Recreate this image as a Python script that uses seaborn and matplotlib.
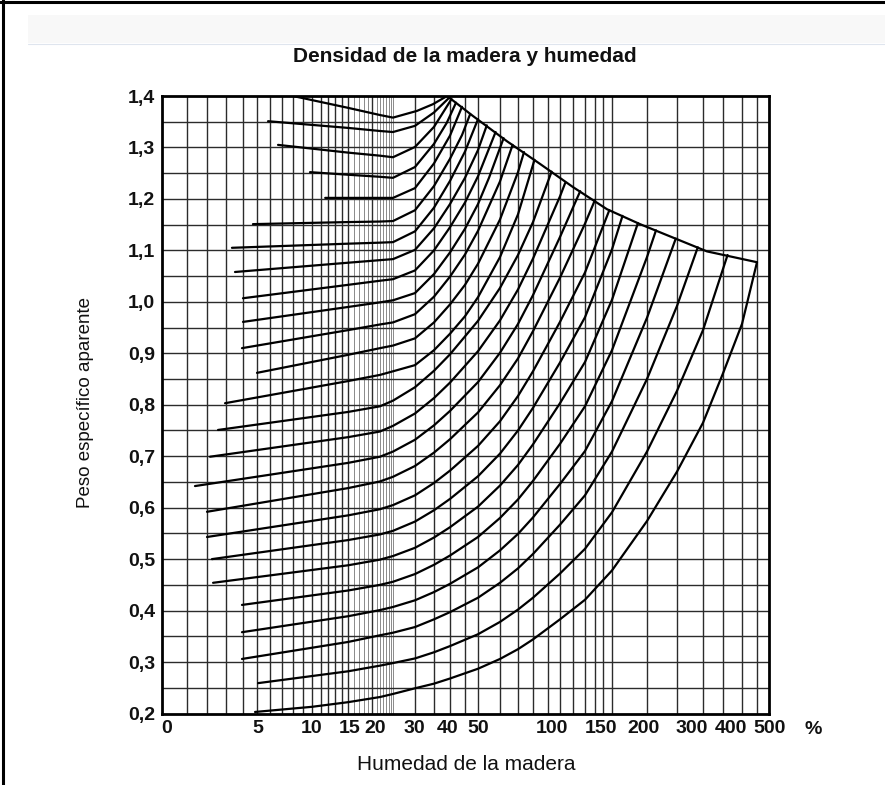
import numpy as np
import pandas as pd
import matplotlib
matplotlib.use("Agg")
import matplotlib.pyplot as plt
from matplotlib.transforms import ScaledTranslation
from matplotlib.patches import Rectangle
from matplotlib.lines import Line2D
import seaborn as sns

# ---------------------------------------------------------------------------
# Moisture scale of the nomogram: gridline values (%) and their spacing
# along the printed axis (the scale is neither linear nor logarithmic).
grid_u = [0, 1, 2, 3, 4, 5, 6, 7, 8, 9, 10, 11, 12, 13, 14, 15, 16, 17, 18, 19,
          20, 21, 22, 23, 24, 25, 26, 27, 30, 35, 40, 45, 50, 60, 70, 80, 90,
          100, 110, 120, 130, 140, 150, 200, 250, 300, 350, 400, 450, 500]
grid_pos = [0, 25, 45, 64, 81, 95, 108, 120, 131, 141, 150, 159, 166, 173, 180,
            186, 192, 197, 202, 206, 210, 215, 218, 221, 224, 227, 229, 231,
            253, 272, 288, 303, 316, 338, 356, 371, 386, 398, 411, 423, 433,
            441, 450, 485, 515, 541, 561, 580, 595, 607]

xtick_values = [0, 5, 10, 15, 20, 30, 40, 50, 100, 150, 200, 300, 400, 500]
ytick_values = [0.2, 0.3, 0.4, 0.5, 0.6, 0.7, 0.8, 0.9, 1.0, 1.1, 1.2, 1.3, 1.4]

# ---------------------------------------------------------------------------
# Apparent specific gravity curves (u = moisture %, rho = specific gravity)
u_140 = [8.0, 15, 22, 27, 30.5, 34.7, 39.1]
rho_140 = [1.400, 1.377, 1.363, 1.358, 1.371, 1.384, 1.400]
u_135 = [5.85, 15, 22, 27, 30, 35, 39.8]
rho_135 = [1.351, 1.338, 1.332, 1.330, 1.342, 1.368, 1.397]
u_130 = [6.67, 15, 22, 27, 30, 35, 40.5]
rho_130 = [1.305, 1.290, 1.284, 1.281, 1.301, 1.340, 1.394]
u_125 = [9.78, 15, 22, 27, 30, 35, 39, 42]
rho_125 = [1.252, 1.247, 1.243, 1.241, 1.262, 1.307, 1.348, 1.387]
u_120 = [11.6, 15, 22, 27, 30, 35, 40, 44]
rho_120 = [1.202, 1.202, 1.202, 1.202, 1.221, 1.269, 1.323, 1.379]
u_115 = [4.71, 15, 22, 27, 30, 35, 40, 44, 47]
rho_115 = [1.151, 1.155, 1.156, 1.157, 1.178, 1.225, 1.278, 1.324, 1.365]
u_110 = [3.35, 15, 22, 27, 30, 35, 40, 45, 50]
rho_110 = [1.105, 1.113, 1.115, 1.116, 1.137, 1.183, 1.235, 1.292, 1.355]
u_105 = [3.53, 15, 22, 27, 30, 35, 40, 45, 50, 54]
rho_105 = [1.058, 1.076, 1.081, 1.083, 1.101, 1.143, 1.190, 1.241, 1.295, 1.343]
u_100 = [4.0, 15, 22, 27, 30, 35, 40, 45, 50, 58]
rho_100 = [1.007, 1.033, 1.041, 1.044, 1.061, 1.100, 1.145, 1.193, 1.244, 1.330]
u_095 = [4.0, 15, 22, 27, 30, 35, 40, 45, 50, 55, 62]
rho_095 = [0.961, 0.990, 0.999, 1.003, 1.017, 1.054, 1.096, 1.142, 1.190, 1.241, 1.318]
u_090 = [3.94, 15, 22, 27, 30, 35, 40, 45, 50, 60, 67]
rho_090 = [0.910, 0.945, 0.956, 0.960, 0.976, 1.010, 1.049, 1.092, 1.138, 1.234, 1.305]
u_085 = [5.0, 15, 22, 27, 30, 35, 40, 45, 50, 60, 70, 74]
rho_085 = [0.862, 0.897, 0.910, 0.915, 0.929, 0.960, 0.995, 1.033, 1.074, 1.160, 1.252, 1.291]
u_080 = [2.95, 15, 22, 27, 30, 35, 40, 45, 50, 60, 70, 81]
rho_080 = [0.803, 0.846, 0.858, 0.865, 0.877, 0.906, 0.938, 0.972, 1.009, 1.087, 1.170, 1.276]
u_075 = [2.58, 15, 22, 27, 30, 35, 40, 50, 60, 70, 80, 93]
rho_075 = [0.751, 0.786, 0.797, 0.808, 0.834, 0.866, 0.898, 0.963, 1.027, 1.091, 1.155, 1.253]
u_070 = [2.16, 15, 22, 27, 30, 35, 40, 50, 60, 70, 80, 100, 104]
rho_070 = [0.699, 0.737, 0.748, 0.759, 0.783, 0.813, 0.843, 0.904, 0.964, 1.024, 1.084, 1.205, 1.231]
u_065 = [1.40, 15, 22, 27, 30, 35, 40, 50, 60, 70, 80, 100, 116]
rho_065 = [0.642, 0.687, 0.699, 0.709, 0.732, 0.760, 0.788, 0.844, 0.901, 0.957, 1.013, 1.126, 1.215]
u_060 = [2.0, 15, 22, 27, 30, 35, 40, 50, 60, 70, 80, 100, 120, 130]
rho_060 = [0.592, 0.638, 0.651, 0.660, 0.681, 0.707, 0.733, 0.785, 0.838, 0.890, 0.943, 1.047, 1.152, 1.198]
u_055 = [2.0, 15, 22, 27, 30, 35, 40, 50, 60, 70, 80, 100, 120, 147]
rho_055 = [0.543, 0.585, 0.597, 0.605, 0.624, 0.648, 0.672, 0.720, 0.768, 0.817, 0.865, 0.961, 1.057, 1.178]
u_050 = [2.26, 15, 22, 27, 30, 35, 40, 50, 60, 70, 80, 100, 120, 150, 165]
rho_050 = [0.500, 0.537, 0.548, 0.555, 0.573, 0.595, 0.617, 0.661, 0.705, 0.750, 0.794, 0.882, 0.970, 1.102, 1.167]
u_045 = [2.32, 15, 22, 27, 30, 35, 40, 50, 60, 70, 80, 100, 120, 150, 187]
rho_045 = [0.454, 0.488, 0.499, 0.506, 0.522, 0.542, 0.562, 0.602, 0.643, 0.683, 0.723, 0.803, 0.883, 1.004, 1.153]
u_040 = [3.94, 15, 22, 27, 30, 35, 40, 50, 60, 70, 80, 100, 120, 150, 200, 215]
rho_040 = [0.411, 0.439, 0.450, 0.456, 0.471, 0.489, 0.507, 0.543, 0.580, 0.616, 0.652, 0.724, 0.797, 0.906, 1.087, 1.139]
u_035 = [3.94, 15, 22, 27, 30, 35, 40, 50, 60, 70, 80, 100, 120, 150, 200, 248]
rho_035 = [0.358, 0.389, 0.401, 0.407, 0.420, 0.436, 0.452, 0.484, 0.517, 0.549, 0.581, 0.646, 0.710, 0.807, 0.969, 1.123]
u_030 = [3.94, 15, 22, 27, 30, 35, 40, 50, 60, 70, 80, 100, 120, 150, 200, 250, 290]
rho_030 = [0.306, 0.339, 0.352, 0.357, 0.368, 0.383, 0.397, 0.425, 0.454, 0.482, 0.510, 0.567, 0.624, 0.709, 0.850, 0.992, 1.106]
u_025 = [5.08, 15, 22, 27, 30, 35, 40, 50, 60, 70, 80, 100, 120, 150, 200, 250, 300, 362]
rho_025 = [0.259, 0.282, 0.293, 0.298, 0.307, 0.319, 0.331, 0.354, 0.378, 0.402, 0.425, 0.472, 0.520, 0.591, 0.709, 0.827, 0.945, 1.091]
u_020 = [4.86, 10, 15, 22, 27, 30, 35, 40, 50, 60, 70, 80, 100, 120, 150, 200, 250, 300, 350, 400, 450]
rho_020 = [0.203, 0.213, 0.222, 0.232, 0.238, 0.249, 0.258, 0.268, 0.287, 0.306, 0.325, 0.344, 0.383, 0.421, 0.478, 0.574, 0.670, 0.765, 0.861, 0.957, 1.077]

# Saturation limit (upper envelope of the curves)
u_limit = [39.1, 48.1, 63.9, 84.7, 110, 144.4, 190, 243, 310, 450]
rho_limit = [1.400, 1.361, 1.312, 1.268, 1.223, 1.180, 1.151, 1.125, 1.098, 1.077]

curves = [
    ("1,40", u_140, rho_140), ("1,35", u_135, rho_135), ("1,30", u_130, rho_130),
    ("1,25", u_125, rho_125), ("1,20", u_120, rho_120), ("1,15", u_115, rho_115),
    ("1,10", u_110, rho_110), ("1,05", u_105, rho_105), ("1,00", u_100, rho_100),
    ("0,95", u_095, rho_095), ("0,90", u_090, rho_090), ("0,85", u_085, rho_085),
    ("0,80", u_080, rho_080), ("0,75", u_075, rho_075), ("0,70", u_070, rho_070),
    ("0,65", u_065, rho_065), ("0,60", u_060, rho_060), ("0,55", u_055, rho_055),
    ("0,50", u_050, rho_050), ("0,45", u_045, rho_045), ("0,40", u_040, rho_040),
    ("0,35", u_035, rho_035), ("0,30", u_030, rho_030), ("0,25", u_025, rho_025),
    ("0,20", u_020, rho_020), ("limite", u_limit, rho_limit),
]

frames = []
for name, us, rs in curves:
    frames.append(pd.DataFrame({"curva": name, "u": us, "rho": rs}))
df = pd.concat(frames, ignore_index=True)

# ---------------------------------------------------------------------------
# Custom moisture scale built from the gridline table
_gu = np.asarray(grid_u, float)
_gp = np.asarray(grid_pos, float)


def _forward(u):
    u = np.asarray(u, float)
    out = np.interp(u, _gu, _gp)
    lo = (_gp[1] - _gp[0]) / (_gu[1] - _gu[0])
    hi = (_gp[-1] - _gp[-2]) / (_gu[-1] - _gu[-2])
    out = np.where(u < _gu[0], _gp[0] + (u - _gu[0]) * lo, out)
    out = np.where(u > _gu[-1], _gp[-1] + (u - _gu[-1]) * hi, out)
    return out


def _inverse(p):
    p = np.asarray(p, float)
    out = np.interp(p, _gp, _gu)
    lo = (_gu[1] - _gu[0]) / (_gp[1] - _gp[0])
    hi = (_gu[-1] - _gu[-2]) / (_gp[-1] - _gp[-2])
    out = np.where(p < _gp[0], _gu[0] + (p - _gp[0]) * lo, out)
    out = np.where(p > _gp[-1], _gu[-1] + (p - _gp[-1]) * hi, out)
    return out


# ---------------------------------------------------------------------------
sns.set_theme(style="white")
plt.rcParams["font.family"] = ["Liberation Sans", "DejaVu Sans"]

W, H = 885, 785
fig = plt.figure(figsize=(W / 100, H / 100), dpi=100)
fig.patch.set_facecolor("white")

# page frame and faint header band
fig.add_artist(Rectangle((28 / W, 1 - 43 / H), 1 - 28 / W, 28 / H,
                         transform=fig.transFigure, facecolor="#f8f8f8",
                         edgecolor="none", zorder=0))
fig.add_artist(Line2D([28 / W, 1], [1 - 43.5 / H, 1 - 43.5 / H],
                      transform=fig.transFigure, color="#dfe5ee", lw=0.8))
fig.add_artist(Line2D([0, 1], [1 - 1.5 / H, 1 - 1.5 / H],
                      transform=fig.transFigure, color="black", lw=2.2))
fig.add_artist(Line2D([3 / W, 3 / W], [0, 1], transform=fig.transFigure,
                      color="black", lw=2.2))

ax = fig.add_axes([162 / W, (H - 713.5) / H, 607 / W, 617.5 / H])
ax.set_xscale("function", functions=(_forward, _inverse))
ax.set_xlim(0, 500)
ax.set_ylim(0.2, 1.4)

# grid: moisture lines
for v in grid_u[1:-1]:
    dense = 16 <= v <= 27 and v != 20
    ax.axvline(v, color="#8a8a8a" if dense else "#2b2b2b",
               lw=0.7 if dense else 1.0, zorder=1)
# grid: specific gravity lines every 0.05
for r in np.arange(0.25, 1.399, 0.05):
    ax.axhline(r, color="#2b2b2b", lw=1.0, zorder=1)

sns.lineplot(data=df, x="u", y="rho", units="curva", estimator=None,
             sort=False, color="black", lw=1.6, ax=ax, legend=False, zorder=3)

ax.set_xticks(xtick_values)
ax.set_xticklabels([str(v) for v in xtick_values])
ax.set_yticks(ytick_values)
ax.set_yticklabels([f"{v:.1f}".replace(".", ",") for v in ytick_values])
ax.tick_params(axis="both", length=0, labelsize=14, colors="#111111")
ax.tick_params(axis="x", pad=5)
ax.tick_params(axis="y", pad=5)
ax.set_xlabel("")
ax.set_ylabel("")
for lab in ax.get_xticklabels() + ax.get_yticklabels():
    lab.set_fontweight("bold")

# printed label positions are slightly shifted from their gridlines
label_shift = {0: 5, 5: 1, 10: 0, 15: 2, 20: 3, 30: -1, 40: -2, 50: 0,
               100: -8, 150: -11, 200: -3, 300: -11, 400: -11, 500: 1}
for val, lab in zip(xtick_values, ax.get_xticklabels()):
    dx = label_shift.get(val, 0) / 100
    lab.set_transform(lab.get_transform() +
                      ScaledTranslation(dx, 0, fig.dpi_scale_trans))

fig.text(813 / W, 1 - 729 / H, "%", fontsize=14, fontweight="bold",
         ha="center", va="center", color="#111111")

for s in ax.spines.values():
    s.set_visible(True)
    s.set_color("black")
    s.set_linewidth(2.0)
    s.set_zorder(4)

fig.text(466 / W, 1 - 765 / H, "Humedad de la madera", fontsize=15,
         ha="center", va="center", color="#111111")
fig.text(85 / W, 1 - 403 / H, "Peso específico aparente", fontsize=13.5,
         rotation=90, ha="center", va="center", color="#111111")

fig.text(465 / W, 1 - 57 / H, "Densidad de la madera y humedad",
         fontsize=15, fontweight="bold", ha="center", va="center",
         color="#111111")

fig.savefig("out.png", dpi=100, facecolor="white")
